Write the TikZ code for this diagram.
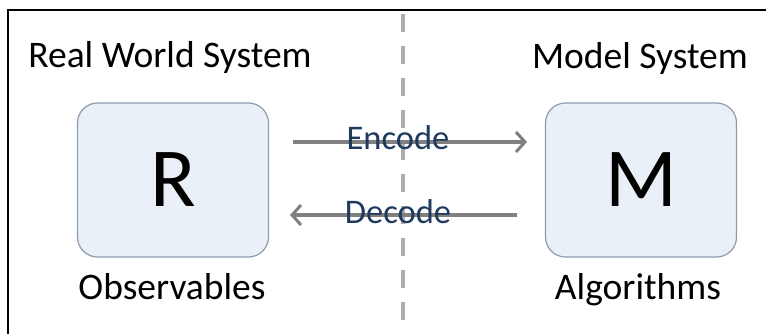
\documentclass[tikz,border=0pt]{standalone}
\usepackage{fontspec}
\setmainfont{Carlito}
\usetikzlibrary{arrows.meta}
\definecolor{boxfill}{HTML}{EAF0F8}
\definecolor{boxedge}{HTML}{8E9CAE}
\definecolor{arrowgray}{HTML}{808080}
\definecolor{dashgray}{HTML}{ADADAD}
\definecolor{labelblue}{HTML}{1F3A5F}
\tikzset{
  sysbox/.style={draw=boxedge, line width=1.2pt, fill=boxfill, rounded corners=20pt,
    minimum width=191pt, minimum height=154pt, inner sep=0pt,
    font=\fontsize{84}{84}\selectfont, text=black},
  title/.style={font=\fontsize{37.5}{38}\selectfont, text=black, anchor=base, inner sep=0pt},
  flow/.style={draw=arrowgray, line width=3.5pt, -{Straight Barb[length=9pt,width=20pt,line width=3pt]}},
  flowlabel/.style={font=\fontsize{34.5}{35}\selectfont, text=labelblue, anchor=base, inner sep=0pt},
}
\begin{document}
\begin{tikzpicture}[x=1pt,y=-1pt]
\useasboundingbox (0,0) rectangle (766,333);
\fill[white] (0,0) rectangle (766,333);
% frame (only top and left visible)
\draw[line width=2pt, black] (8,340) -- (8,10) -- (770,10);
% dashed separator
\draw[dashgray, line width=4pt, dash pattern=on 18pt off 14pt, dash phase=-2pt] (402.5,12) -- (402.5,340);
% boxes
\node[sysbox] (R) at (173,180) {\raisebox{-4pt}{R}};
\node[sysbox] (M) at (641,180) {\raisebox{-4pt}{M}};
% titles
\node[title] (tR) at (170,67) {Real World System};
\node[title] (tM) at (640,68) {Model System};
\node[title] (oR) at (172,299) {Observables};
\node[title] (aM) at (638,299) {Algorithms};
% arrows
\coordinate (e1) at (293,142);
\coordinate (e2) at (527,142);
\coordinate (d1) at (517,215);
\coordinate (d2) at (290,215);
\draw[flow] (e1) -- (e2);
\draw[flow] (d1) -- (d2);
\node[flowlabel] (enc) at (398,149) {Encode};
\node[flowlabel] (dec) at (398,223) {Decode};
\end{tikzpicture}
\end{document}
